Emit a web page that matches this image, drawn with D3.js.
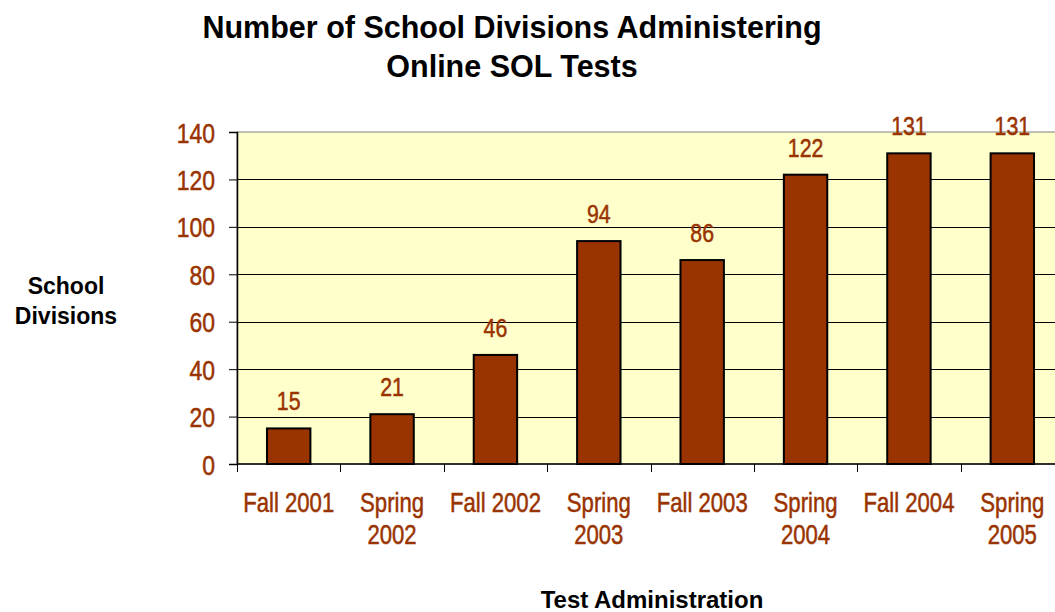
<!DOCTYPE html>
<meta charset="utf-8">
<html>
<head>
	<script src="https://d3js.org/d3.v7.min.js"></script>
	<style>
		body { margin: 0; background: #fff; }
		.narrow { font-family: "Liberation Sans", Arial, sans-serif; fill: #993300; stroke: #993300; stroke-width: 0.5px; }
		.bold { font-family: "Liberation Sans", Arial, sans-serif; font-weight: bold; fill: #000; }
	</style>
</head>
<body>

<div id="chart"></div>

<script>

// data
var categories = ["Fall 2001", "Spring 2002", "Fall 2002", "Spring 2003", "Fall 2003", "Spring 2004", "Fall 2004", "Spring 2005"];
var divisions = [15, 21, 46, 94, 86, 122, 131, 131];
var yTicks = [0, 20, 40, 60, 80, 100, 120, 140];

var W = 1055, H = 612;
var plot = {left: 237, top: 132, right: 1064, bottom: 464};
var squeeze = 0.82; // fake Arial Narrow with a horizontal squeeze

var svg = d3.select("#chart")
  .append("svg")
    .attr("width", W)
    .attr("height", H);

// narrow text helper
function narrow(parent, x, y, size, txt) {
  return parent.append("text")
    .attr("class", "narrow")
    .attr("text-anchor", "middle")
    .attr("transform", "translate(" + x + "," + y + ") scale(" + squeeze + ",1)")
    .style("font-size", size + "px")
    .text(txt);
}

// title
var title = svg.append("text")
  .attr("class", "bold")
  .attr("text-anchor", "middle")
  .style("font-size", "30.5px");
title.append("tspan").attr("x", 512).attr("y", 38).text("Number of School Divisions Administering");
title.append("tspan").attr("x", 512).attr("y", 77).text("Online SOL Tests");

var x = d3.scaleBand()
  .domain(categories)
  .range([plot.left, plot.right])
  .paddingInner(0.58)
  .paddingOuter(0.29);

var y = d3.scaleLinear()
  .domain([0, 140])
  .range([plot.bottom, plot.top]);

// plot background
svg.append("rect")
  .attr("x", plot.left)
  .attr("y", plot.top)
  .attr("width", plot.right - plot.left)
  .attr("height", plot.bottom - plot.top)
  .attr("fill", "#FFFFCC")
  .attr("stroke", "#808080")
  .attr("stroke-width", 1);

// gridlines
svg.append("g")
  .selectAll("line")
  .data(yTicks.filter(function(d) { return d > 0 && d < 140; }))
  .enter()
  .append("line")
  .attr("x1", plot.left)
  .attr("x2", plot.right)
  .attr("y1", function(d) { return Math.round(y(d)) + 0.5; })
  .attr("y2", function(d) { return Math.round(y(d)) + 0.5; })
  .attr("stroke", "#000")
  .attr("stroke-width", 1);

// bars
svg.append("g")
  .selectAll("rect")
  .data(divisions)
  .enter()
  .append("rect")
  .attr("x", function(d, i) { return x(categories[i]); })
  .attr("y", function(d) { return y(d); })
  .attr("width", x.bandwidth())
  .attr("height", function(d) { return y(0) - y(d); })
  .attr("fill", "#993300")
  .attr("stroke", "#000")
  .attr("stroke-width", 2);

// value labels
var valG = svg.append("g");
divisions.forEach(function(d, i) {
  narrow(valG, x(categories[i]) + x.bandwidth() / 2, y(d) - 18, 26, d);
});

// y axis
var yAxis = svg.append("g")
  .attr("transform", "translate(" + plot.left + ",0)")
  .call(d3.axisLeft(y).tickValues(yTicks).tickSize(8).tickPadding(14));
yAxis.select(".domain").attr("stroke", "#000").attr("stroke-width", 1.5);
yAxis.selectAll(".tick line").attr("stroke", "#000");
yAxis.selectAll(".tick text")
  .attr("class", "narrow")
  .attr("x", -22 / squeeze)
  .attr("transform", "scale(" + squeeze + ",1)")
  .style("font-size", "28px")
  .attr("dy", "0.36em");

// x axis: ticks sit on the category boundaries
var bounds = categories.map(function(c) { return x(c) - x.step() * x.paddingInner() / 2; });
bounds.push(plot.right);
svg.append("line")
  .attr("x1", plot.left)
  .attr("x2", plot.right)
  .attr("y1", plot.bottom)
  .attr("y2", plot.bottom)
  .attr("stroke", "#000")
  .attr("stroke-width", 1.5);
svg.append("g")
  .selectAll("line")
  .data(bounds)
  .enter()
  .append("line")
  .attr("x1", function(d) { return Math.round(d) + 0.5; })
  .attr("x2", function(d) { return Math.round(d) + 0.5; })
  .attr("y1", plot.bottom)
  .attr("y2", plot.bottom + 8)
  .attr("stroke", "#000");

var labG = svg.append("g");
categories.forEach(function(c) {
  var cx = x(c) + x.bandwidth() / 2;
  var parts = c.indexOf("Spring") === 0 ? c.split(" ") : [c];
  parts.forEach(function(p, i) {
    narrow(labG, cx, 512 + i * 32, 27, p);
  });
});

// axis titles
var yTitle = svg.append("text")
  .attr("class", "bold")
  .attr("text-anchor", "middle")
  .style("font-size", "23px");
yTitle.append("tspan").attr("x", 66).attr("y", 294).text("School");
yTitle.append("tspan").attr("x", 66).attr("y", 324).text("Divisions");

svg.append("text")
  .attr("class", "bold")
  .attr("text-anchor", "middle")
  .style("font-size", "24px")
  .attr("x", 652)
  .attr("y", 608)
  .text("Test Administration");

</script>

</body>
</html>
